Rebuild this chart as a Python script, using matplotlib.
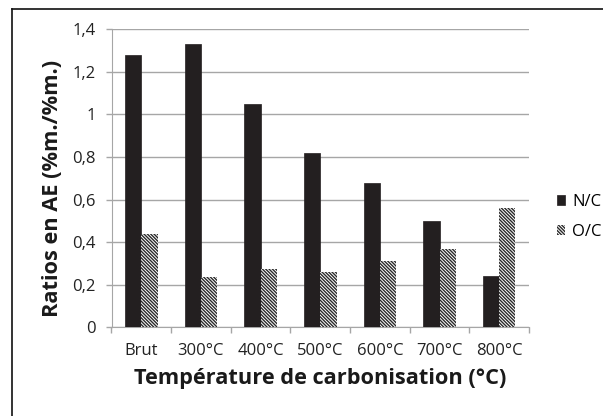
import matplotlib
matplotlib.use("Agg")
import matplotlib.pyplot as plt
import numpy as np
from matplotlib.lines import Line2D

categories = ["Brut", "300°C", "400°C", "500°C", "600°C", "700°C", "800°C"]
nc = [1.28, 1.33, 1.05, 0.82, 0.68, 0.50, 0.24]
oc = [0.44, 0.235, 0.275, 0.26, 0.31, 0.37, 0.56]
yticks = [0, 0.2, 0.4, 0.6, 0.8, 1.0, 1.2, 1.4]
ytick_labels = ["0", "0,2", "0,4", "0,6", "0,8", "1", "1,2", "1,4"]

plt.rcParams['font.family'] = ['Open Sans', 'DejaVu Sans']
plt.rcParams['hatch.linewidth'] = 1.0
plt.rcParams['hatch.color'] = '#2a2a2a'

W, H = 603, 416
fig = plt.figure(figsize=(W / 100, H / 100), dpi=100)
ax = fig.add_axes([111.5 / W, 1 - 327.3 / H, (529 - 111.5) / W, (327.3 - 29.3) / H])

x = np.arange(len(categories))
w = 0.273
ax.bar(x - w / 2, nc, w, color='#231f20', edgecolor='#231f20', linewidth=0.5, label='N/C', zorder=3)
ax.bar(x + w / 2, oc, w, color='white', edgecolor='#2a2a2a', hatch='\\' * 10, linewidth=0, label='O/C', zorder=3)

ax.set_xlim(-0.5, len(categories) - 0.5)
ax.set_ylim(0, 1.4)
ax.set_yticks(yticks)
ax.set_yticklabels(ytick_labels, fontsize=12, color='#222222')
ax.yaxis.grid(True, color='#a6a6a6', linewidth=1, zorder=0)
ax.tick_params(axis='y', length=4.3, width=1, color='#a6a6a6', pad=7)
ax.set_xticks(x)
ax.set_xticklabels(categories, fontsize=12, color='#222222')
ax.set_xticks(np.arange(-0.5, len(categories), 1), minor=True)
ax.tick_params(axis='x', which='major', length=0, pad=11)
ax.tick_params(axis='x', which='minor', length=4.3, color='#a6a6a6', width=1)

for s in ['top', 'right']:
    ax.spines[s].set_visible(False)
ax.spines['left'].set_color('#a6a6a6')
ax.spines['bottom'].set_color('#a6a6a6')

ax.set_ylabel("Ratios en AE (%m./%m.)", fontsize=15.7, fontweight='bold', labelpad=7, color='#1a1a1a')
ax.yaxis.label.set_y(0.467)
ax.set_xlabel("Température de carbonisation (°C)", fontsize=15.7, fontweight='bold', labelpad=7, color='#1a1a1a')

leg = fig.legend(loc='center left', bbox_to_anchor=(557 / W, 1 - 217 / H), frameon=False,
                 fontsize=12, handlelength=0.5, handleheight=0.5, handletextpad=0.4,
                 labelspacing=0.85, borderaxespad=0, borderpad=0)

fig.add_artist(Line2D([12 / W, 12 / W], [0, 1 - 9 / H], transform=fig.transFigure, color='#111111', linewidth=1.2))
fig.add_artist(Line2D([12 / W, 1], [1 - 9 / H, 1 - 9 / H], transform=fig.transFigure, color='#111111', linewidth=1.2))

fig.savefig("out.png", dpi=100)
